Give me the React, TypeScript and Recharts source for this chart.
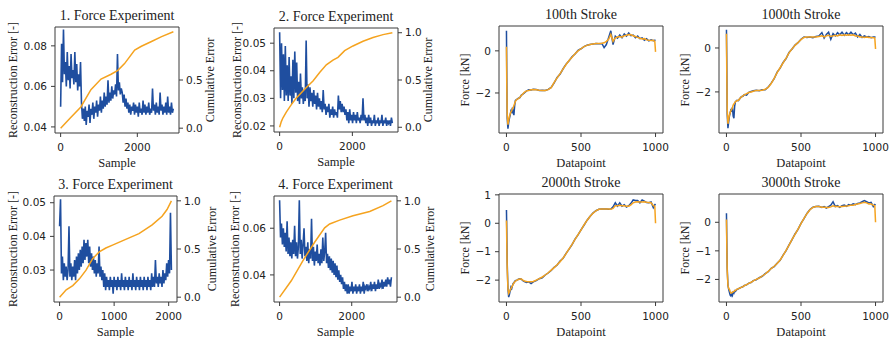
import { Line, LineChart, ReferenceArea, XAxis, YAxis } from "recharts";

const BLUE = "#1f4e9f";
const ORANGE = "#f5a31f";
const FRAME = "#3a3a3a";
const SERIF = '"Liberation Serif", "Times New Roman", serif';
const SANS = '"DejaVu Sans", sans-serif';

// last sample index of the four force experiments
const EXP_LAST = [2940, 3100, 2050, 3100];

// reconstruction error, evenly spread over the samples of each experiment
const exp1Error = [
  0.050, 0.081, 0.062, 0.088, 0.066, 0.072, 0.060, 0.077, 0.063, 0.070, 0.059, 0.076, 0.064, 0.068, 0.061, 0.077,
  0.062, 0.071, 0.058, 0.066, 0.060, 0.072, 0.052, 0.044, 0.049, 0.043, 0.050, 0.041, 0.048, 0.045, 0.051, 0.042,
  0.049, 0.046, 0.052, 0.044, 0.050, 0.047, 0.053, 0.045, 0.051, 0.048, 0.055, 0.047, 0.053, 0.049, 0.057, 0.050,
  0.055, 0.051, 0.063, 0.052, 0.057, 0.053, 0.060, 0.054, 0.058, 0.056, 0.061, 0.055, 0.076, 0.058, 0.062, 0.056,
  0.059, 0.057, 0.052, 0.056, 0.050, 0.054, 0.049, 0.052, 0.047, 0.051, 0.046, 0.050, 0.048, 0.052, 0.046, 0.051,
  0.047, 0.050, 0.045, 0.052, 0.047, 0.049, 0.046, 0.053, 0.047, 0.051, 0.046, 0.050, 0.047, 0.052, 0.046, 0.049,
  0.047, 0.059, 0.048, 0.051, 0.046, 0.052, 0.047, 0.050, 0.046, 0.057, 0.048, 0.051, 0.046, 0.050, 0.047, 0.052,
  0.046, 0.055, 0.047, 0.050, 0.046, 0.052, 0.047, 0.049,
];
const exp2Error = [
  0.054, 0.030, 0.050, 0.033, 0.046, 0.029, 0.049, 0.031, 0.042, 0.029, 0.045, 0.031, 0.038, 0.028, 0.044, 0.030,
  0.047, 0.032, 0.043, 0.029, 0.036, 0.028, 0.039, 0.030, 0.034, 0.028, 0.033, 0.029, 0.051, 0.030, 0.035, 0.027,
  0.034, 0.029, 0.032, 0.027, 0.033, 0.028, 0.031, 0.026, 0.032, 0.027, 0.030, 0.026, 0.029, 0.025, 0.033, 0.026,
  0.028, 0.024, 0.027, 0.025, 0.028, 0.023, 0.026, 0.024, 0.027, 0.023, 0.026, 0.024, 0.025, 0.023, 0.031, 0.026,
  0.029, 0.025, 0.028, 0.025, 0.027, 0.024, 0.026, 0.022, 0.025, 0.021, 0.026, 0.022, 0.024, 0.021, 0.025, 0.022,
  0.024, 0.021, 0.025, 0.022, 0.023, 0.021, 0.024, 0.022, 0.030, 0.022, 0.024, 0.021, 0.023, 0.020, 0.024, 0.021,
  0.023, 0.020, 0.022, 0.021, 0.024, 0.020, 0.022, 0.021, 0.023, 0.020, 0.022, 0.021, 0.024, 0.020, 0.022, 0.021,
  0.023, 0.020, 0.022, 0.021, 0.022, 0.020, 0.023, 0.021,
];
const exp3Error = [
  0.043, 0.051, 0.029, 0.034, 0.027, 0.032, 0.028, 0.031, 0.027, 0.030, 0.043, 0.028, 0.032, 0.027, 0.031, 0.028,
  0.033, 0.027, 0.034, 0.029, 0.035, 0.030, 0.036, 0.031, 0.037, 0.032, 0.039, 0.033, 0.038, 0.034, 0.039, 0.032,
  0.037, 0.031, 0.035, 0.030, 0.034, 0.029, 0.033, 0.028, 0.032, 0.029, 0.037, 0.028, 0.031, 0.027, 0.030, 0.025,
  0.029, 0.024, 0.028, 0.025, 0.027, 0.024, 0.028, 0.025, 0.027, 0.023, 0.028, 0.025, 0.027, 0.024, 0.028, 0.025,
  0.027, 0.024, 0.029, 0.025, 0.027, 0.024, 0.028, 0.025, 0.027, 0.024, 0.028, 0.025, 0.027, 0.024, 0.029, 0.025,
  0.027, 0.024, 0.028, 0.025, 0.027, 0.024, 0.028, 0.025, 0.027, 0.024, 0.028, 0.025, 0.027, 0.024, 0.028, 0.025,
  0.027, 0.024, 0.029, 0.025, 0.028, 0.025, 0.033, 0.026, 0.028, 0.025, 0.029, 0.026, 0.028, 0.025, 0.030, 0.026,
  0.029, 0.027, 0.032, 0.028, 0.033, 0.029, 0.047, 0.030,
];
const exp4Error = [
  0.072, 0.056, 0.062, 0.053, 0.060, 0.052, 0.058, 0.050, 0.063, 0.049, 0.056, 0.048, 0.054, 0.047, 0.055, 0.049,
  0.061, 0.048, 0.054, 0.047, 0.052, 0.072, 0.049, 0.055, 0.047, 0.053, 0.060, 0.048, 0.052, 0.046, 0.054, 0.045,
  0.051, 0.047, 0.064, 0.046, 0.052, 0.044, 0.050, 0.046, 0.053, 0.045, 0.049, 0.044, 0.051, 0.045, 0.056, 0.046,
  0.050, 0.058, 0.045, 0.049, 0.043, 0.048, 0.042, 0.047, 0.041, 0.046, 0.040, 0.045, 0.039, 0.044, 0.038, 0.042,
  0.037, 0.040, 0.036, 0.039, 0.034, 0.037, 0.033, 0.036, 0.032, 0.036, 0.032, 0.035, 0.033, 0.037, 0.032, 0.035,
  0.033, 0.036, 0.032, 0.035, 0.033, 0.036, 0.032, 0.035, 0.033, 0.037, 0.032, 0.035, 0.034, 0.036, 0.033, 0.035,
  0.034, 0.037, 0.033, 0.036, 0.034, 0.037, 0.033, 0.036, 0.034, 0.038, 0.034, 0.036, 0.035, 0.038, 0.034, 0.037,
  0.035, 0.038, 0.035, 0.039, 0.036, 0.038, 0.035, 0.039,
];

// cumulative error (normalised) and the samples it was read at
const exp1CumSample = [0, 263, 527, 790, 1053, 1316, 1492, 1667, 1931, 2106, 2370, 2633, 2940];
const exp1Cum = [0, 0.11, 0.22, 0.4, 0.51, 0.56, 0.6, 0.67, 0.81, 0.85, 0.9, 0.95, 1.0];
const exp2CumSample = [0, 46, 92, 183, 321, 459, 734, 917, 1100, 1284, 1467, 1605, 1788, 2017, 2293, 2568, 2843, 3100];
const exp2Cum = [0, 0.06, 0.1, 0.16, 0.24, 0.31, 0.42, 0.49, 0.58, 0.66, 0.71, 0.74, 0.81, 0.86, 0.91, 0.95, 0.98, 1.0];
const exp3CumSample = [0, 121, 242, 364, 485, 606, 727, 848, 970, 1212, 1455, 1697, 1879, 1970, 2050];
const exp3Cum = [0, 0.076, 0.12, 0.19, 0.28, 0.4, 0.47, 0.51, 0.54, 0.6, 0.66, 0.75, 0.84, 0.91, 1.0];
const exp4CumSample = [0, 324, 648, 971, 1249, 1388, 1665, 2035, 2498, 2868, 3100];
const exp4Cum = [0, 0.17, 0.38, 0.57, 0.72, 0.76, 0.8, 0.845, 0.89, 0.95, 1.0];

// stroke force profiles [kN]: measured (blue) vs reconstructed (orange)
const datapoints = [
  0, 2, 5, 10, 15, 20, 25, 30, 35, 40, 45, 50, 55, 60, 70, 80, 90, 100, 110, 120, 135, 150, 165, 180, 200, 220, 240,
  260, 280, 300, 320, 340, 360, 380, 400, 420, 440, 460, 480, 500, 520, 540, 560, 580, 600, 620, 640, 655, 670, 685,
  700, 715, 730, 745, 760, 775, 790, 805, 820, 835, 850, 865, 880, 895, 910, 925, 940, 955, 970, 985, 995, 1000,
];
const stroke100Measured = [
  0.95, -1.0, -3.2, -3.7, -3.4, -3.2, -3.05, -2.85, -2.9, -2.7, -2.95, -3.05, -2.6, -2.35, -2.3, -2.25, -2.22, -2.1,
  -2.05, -2.0, -1.9, -1.85, -1.86, -1.82, -1.84, -1.88, -1.87, -1.88, -1.83, -1.74, -1.52, -1.26, -1.1, -0.85, -0.63,
  -0.47, -0.28, -0.15, 0.02, 0.1, 0.2, 0.27, 0.3, 0.32, 0.35, 0.34, 0.35, 0.15, 0.3, 0.62, 0.95, 0.3, 0.7, 0.6, 0.75,
  0.62, 0.8, 0.7, 0.85, 0.72, 0.75, 0.62, 0.7, 0.58, 0.62, 0.5, 0.58, 0.47, 0.52, 0.48, 0.5, 0.5,
];
const stroke100Recon = [
  0.2, -1.5, -3.0, -3.5, -3.3, -3.1, -3.0, -2.9, -2.85, -2.75, -2.7, -2.6, -2.5, -2.4, -2.3, -2.27, -2.2, -2.12, -2.05,
  -1.97, -1.9, -1.88, -1.85, -1.84, -1.85, -1.87, -1.88, -1.88, -1.84, -1.75, -1.5, -1.28, -1.08, -0.86, -0.65, -0.46,
  -0.3, -0.14, 0.0, 0.1, 0.2, 0.26, 0.3, 0.33, 0.35, 0.35, 0.36, 0.38, 0.45, 0.55, 0.78, 0.45, 0.62, 0.66, 0.68, 0.65,
  0.72, 0.74, 0.78, 0.76, 0.72, 0.68, 0.64, 0.6, 0.56, 0.58, 0.52, 0.5, 0.49, 0.5, 0.45, -0.05,
];
const stroke1000Measured = [
  0.83, -0.5, -3.0, -3.65, -3.35, -3.1, -2.95, -2.82, -2.85, -2.7, -3.1, -3.2, -2.65, -2.45, -2.38, -2.4, -2.3, -2.22,
  -2.2, -2.12, -2.15, -2.02, -1.98, -1.95, -1.92, -1.95, -1.9, -1.9, -1.78, -1.6, -1.4, -1.1, -0.92, -0.66, -0.48,
  -0.2, -0.05, 0.13, 0.24, 0.4, 0.5, 0.48, 0.5, 0.47, 0.52, 0.55, 0.7, 0.45, 0.62, 0.72, 0.4, 0.65, 0.55, 0.7, 0.6,
  0.72, 0.58, 0.7, 0.6, 0.72, 0.6, 0.68, 0.5, 0.62, 0.48, 0.55, 0.5, 0.52, 0.47, 0.5, 0.5, 0.5,
];
const stroke1000Recon = [
  0.65, -1.0, -2.8, -3.45, -3.25, -3.05, -2.95, -2.85, -2.8, -2.72, -2.6, -2.55, -2.5, -2.45, -2.4, -2.38, -2.3, -2.23,
  -2.18, -2.13, -2.08, -2.03, -2.0, -1.97, -1.93, -1.93, -1.92, -1.88, -1.8, -1.62, -1.38, -1.12, -0.9, -0.68, -0.46,
  -0.22, -0.04, 0.12, 0.25, 0.38, 0.48, 0.5, 0.5, 0.5, 0.5, 0.52, 0.55, 0.5, 0.55, 0.58, 0.52, 0.55, 0.58, 0.55, 0.6,
  0.57, 0.6, 0.58, 0.6, 0.58, 0.6, 0.55, 0.55, 0.5, 0.5, 0.48, 0.5, 0.48, 0.48, 0.47, 0.45, -0.05,
];
const stroke2000Measured = [
  0.47, -0.2, -1.4, -2.3, -2.6, -2.5, -2.38, -2.25, -2.3, -2.2, -2.12, -2.1, -2.05, -2.02, -2.0, -1.97, -1.95, -1.97,
  -2.02, -2.05, -2.08, -2.06, -2.12, -2.06, -2.02, -1.95, -1.92, -1.82, -1.75, -1.66, -1.55, -1.47, -1.33, -1.23,
  -1.06, -0.91, -0.75, -0.56, -0.41, -0.23, -0.07, 0.1, 0.24, 0.36, 0.44, 0.49, 0.5, 0.5, 0.5, 0.49, 0.5, 0.58, 0.72,
  0.6, 0.72, 0.6, 0.65, 0.57, 0.62, 0.7, 0.82, 0.8, 0.8, 0.72, 0.82, 0.78, 0.73, 0.72, 0.75, 0.55, 0.65, 0.68,
];
const stroke2000Recon = [
  0.1, -0.6, -1.6, -2.3, -2.47, -2.42, -2.35, -2.3, -2.25, -2.2, -2.15, -2.1, -2.07, -2.04, -2.0, -1.98, -1.96, -1.96,
  -2.0, -2.03, -2.05, -2.06, -2.06, -2.05, -2.0, -1.95, -1.89, -1.82, -1.74, -1.65, -1.56, -1.46, -1.35, -1.22, -1.07,
  -0.9, -0.74, -0.57, -0.4, -0.24, -0.06, 0.1, 0.24, 0.35, 0.44, 0.49, 0.5, 0.5, 0.5, 0.5, 0.49, 0.52, 0.62, 0.62,
  0.63, 0.62, 0.62, 0.6, 0.6, 0.65, 0.72, 0.75, 0.76, 0.75, 0.75, 0.76, 0.74, 0.73, 0.72, 0.62, 0.6, 0.0,
];
const stroke3000Measured = [
  0.32, -0.5, -1.6, -2.2, -2.35, -2.45, -2.55, -2.58, -2.5, -2.56, -2.45, -2.48, -2.4, -2.42, -2.35, -2.33, -2.3, -2.27,
  -2.26, -2.21, -2.19, -2.13, -2.11, -2.04, -2.01, -1.94, -1.89, -1.8, -1.73, -1.61, -1.55, -1.43, -1.33, -1.15,
  -0.99, -0.79, -0.61, -0.41, -0.25, -0.04, 0.13, 0.31, 0.45, 0.53, 0.55, 0.56, 0.52, 0.55, 0.5, 0.55, 0.6, 0.72,
  0.55, 0.58, 0.52, 0.58, 0.6, 0.56, 0.62, 0.6, 0.65, 0.62, 0.66, 0.68, 0.72, 0.76, 0.72, 0.68, 0.7, 0.55, 0.62, 0.6,
];
const stroke3000Recon = [
  0.1, -0.7, -1.7, -2.2, -2.32, -2.35, -2.42, -2.48, -2.47, -2.45, -2.43, -2.42, -2.4, -2.38, -2.35, -2.32, -2.3,
  -2.28, -2.25, -2.22, -2.18, -2.14, -2.1, -2.05, -2.0, -1.95, -1.88, -1.81, -1.72, -1.62, -1.54, -1.44, -1.32, -1.16,
  -0.98, -0.8, -0.6, -0.42, -0.24, -0.05, 0.14, 0.3, 0.44, 0.52, 0.55, 0.55, 0.53, 0.53, 0.52, 0.52, 0.54, 0.58, 0.55,
  0.55, 0.54, 0.55, 0.56, 0.57, 0.58, 0.6, 0.6, 0.62, 0.64, 0.66, 0.68, 0.7, 0.68, 0.64, 0.64, 0.6, 0.58, 0.0,
];

type Pt = { x: number; y: number };

const spread = (vals: number[], last: number): Pt[] =>
  vals.map((y, i) => ({ x: (i * last) / (vals.length - 1), y }));
const zip = (xs: number[], ys: number[]): Pt[] => xs.map((x, i) => ({ x, y: ys[i] }));

const fixed = (d: number) => (v: number) => v.toFixed(d);
const minus = (v: number) => (v < 0 ? "\u2212" + Math.abs(v) : String(v));
const expDomain = (n: number): [number, number] => [-0.05 * n, 1.05 * n];

const LEFT_W = 50;
const RIGHT_W = 34;
const BOTTOM_H = 32;
const PAD = 4;
const PAD_RIGHT = 24;

interface PanelProps {
  box: [number, number, number, number];
  title: string;
  xLabel: string;
  yLabel: string;
  yLabelDx: number;
  rLabel?: string;
  rLabelDx?: number;
  xDomain: [number, number];
  xTicks: number[];
  yDomain: [number, number];
  yTicks: number[];
  yFmt: (v: number) => string;
  rDomain?: [number, number];
  rTicks?: number[];
  blue: Pt[];
  orange: Pt[];
  blueWidth?: number;
}

const tickStyle = { fontSize: 10.5, fill: "#222", fontFamily: SANS };

function Panel(p: PanelProps) {
  const [l, t, w, h] = p.box;
  const hasRight = !!p.rDomain;
  const chartW = LEFT_W + w + (hasRight ? RIGHT_W : PAD_RIGHT);
  const chartH = PAD + h + BOTTOM_H;
  const text = { position: "absolute" as const, whiteSpace: "nowrap" as const, color: "#222", fontFamily: SERIF };
  return (
    <>
      <div style={{ position: "absolute", left: l - LEFT_W, top: t - PAD }}>
        <LineChart
          width={chartW}
          height={chartH}
          margin={{ top: PAD, right: hasRight ? 0 : PAD_RIGHT, bottom: 0, left: 0 }}
        >
          <XAxis
            type="number"
            dataKey="x"
            domain={p.xDomain}
            ticks={p.xTicks}
            interval={0}
            height={BOTTOM_H}
            axisLine={false}
            stroke={FRAME}
            tickSize={4}
            tickMargin={7}
            tick={tickStyle}
          />
          <YAxis
            yAxisId="left"
            type="number"
            domain={p.yDomain}
            ticks={p.yTicks}
            interval={0}
            tickFormatter={p.yFmt}
            width={LEFT_W}
            axisLine={false}
            stroke={FRAME}
            tickSize={4}
            tickMargin={4}
            tick={tickStyle}
          />
          {hasRight && (
            <YAxis
              yAxisId="right"
              orientation="right"
              type="number"
              domain={p.rDomain}
              ticks={p.rTicks}
              interval={0}
              tickFormatter={fixed(1)}
              width={RIGHT_W}
              axisLine={false}
              stroke={FRAME}
              tickSize={4}
              tickMargin={3}
              tick={tickStyle}
            />
          )}
          <Line
            yAxisId="left"
            data={p.blue}
            dataKey="y"
            stroke={BLUE}
            strokeWidth={p.blueWidth ?? 1.5}
            strokeLinejoin="miter"
            dot={false}
            isAnimationActive={false}
          />
          <Line
            yAxisId={hasRight ? "right" : "left"}
            data={p.orange}
            dataKey="y"
            stroke={ORANGE}
            strokeWidth={1.5}
            dot={false}
            isAnimationActive={false}
          />
          <ReferenceArea
            yAxisId="left"
            x1={p.xDomain[0]}
            x2={p.xDomain[1]}
            y1={p.yDomain[0]}
            y2={p.yDomain[1]}
            fill="none"
            stroke={FRAME}
            strokeWidth={1}
            ifOverflow="visible"
          />
        </LineChart>
      </div>
      <div style={{ ...text, fontSize: 14, left: l + w / 2, top: t - 11, transform: "translate(-50%, -50%)" }}>
        {p.title}
      </div>
      <div style={{ ...text, fontSize: 12.5, left: l + w / 2, top: t + h + 30, transform: "translate(-50%, -50%)" }}>
        {p.xLabel}
      </div>
      <div
        style={{
          ...text,
          fontSize: 12,
          left: l + p.yLabelDx,
          top: t + h / 2,
          transform: "translate(-50%, -50%) rotate(-90deg)",
        }}
      >
        {p.yLabel}
      </div>
      {p.rLabel && (
        <div
          style={{
            ...text,
            fontSize: 12,
            left: l + w + (p.rLabelDx ?? 32),
            top: t + h / 2,
            transform: "translate(-50%, -50%) rotate(-90deg)",
          }}
        >
          {p.rLabel}
        </div>
      )}
    </>
  );
}

const CUM_DOMAIN: [number, number] = [-0.05, 1.05];
const FORCE_X: [number, number] = [-50, 1050];
const FORCE_TICKS = [0, 500, 1000];

export default function App() {
  return (
    <div
      style={{
        position: "absolute",
        left: 0,
        top: 0,
        width: 894,
        height: 338,
        background: "#fff",
        overflow: "hidden",
      }}
    >
      <Panel
        box={[55, 27, 124, 106]}
        title="1. Force Experiment"
        xLabel="Sample"
        yLabel="Reconstruction Error [-]"
        yLabelDx={-42}
        rLabel="Cumulative Error"
        rLabelDx={31}
        xDomain={expDomain(EXP_LAST[0])}
        xTicks={[0, 2000]}
        yDomain={[0.037, 0.0893]}
        yTicks={[0.04, 0.06, 0.08]}
        yFmt={fixed(2)}
        rDomain={CUM_DOMAIN}
        rTicks={[0, 0.5]}
        blue={spread(exp1Error, EXP_LAST[0])}
        orange={zip(exp1CumSample, exp1Cum)}
        blueWidth={1.6}
      />
      <Panel
        box={[274, 28, 124, 104]}
        title="2. Force Experiment"
        xLabel="Sample"
        yLabel="Reconstruction Error [-]"
        yLabelDx={-37}
        rLabel="Cumulative Error"
        rLabelDx={30}
        xDomain={expDomain(EXP_LAST[1])}
        xTicks={[0, 2000]}
        yDomain={[0.0178, 0.0555]}
        yTicks={[0.02, 0.03, 0.04, 0.05]}
        yFmt={fixed(2)}
        rDomain={CUM_DOMAIN}
        rTicks={[0, 0.5, 1]}
        blue={spread(exp2Error, EXP_LAST[1])}
        orange={zip(exp2CumSample, exp2Cum)}
        blueWidth={1.6}
      />
      <Panel
        box={[54, 196, 123, 106]}
        title="3. Force Experiment"
        xLabel="Sample"
        yLabel="Reconstruction Error [-]"
        yLabelDx={-41}
        rLabel="Cumulative Error"
        rLabelDx={35}
        xDomain={expDomain(EXP_LAST[2])}
        xTicks={[0, 1000, 2000]}
        yDomain={[0.0205, 0.052]}
        yTicks={[0.03, 0.04, 0.05]}
        yFmt={fixed(2)}
        rDomain={CUM_DOMAIN}
        rTicks={[0, 0.5, 1]}
        blue={spread(exp3Error, EXP_LAST[2])}
        orange={zip(exp3CumSample, exp3Cum)}
        blueWidth={1.6}
      />
      <Panel
        box={[274, 196, 123, 106]}
        title="4. Force Experiment"
        xLabel="Sample"
        yLabel="Reconstruction Error [-]"
        yLabelDx={-39}
        rLabel="Cumulative Error"
        rLabelDx={33}
        xDomain={expDomain(EXP_LAST[3])}
        xTicks={[0, 2000]}
        yDomain={[0.0284, 0.0738]}
        yTicks={[0.04, 0.06]}
        yFmt={fixed(2)}
        rDomain={CUM_DOMAIN}
        rTicks={[0, 0.5, 1]}
        blue={spread(exp4Error, EXP_LAST[3])}
        orange={zip(exp4CumSample, exp4Cum)}
        blueWidth={1.6}
      />
      <Panel
        box={[499, 26, 164, 107]}
        title="100th Stroke"
        xLabel="Datapoint"
        yLabel="Force [kN]"
        yLabelDx={-34}
        xDomain={FORCE_X}
        xTicks={FORCE_TICKS}
        yDomain={[-3.9, 1.18]}
        yTicks={[-2, 0]}
        yFmt={minus}
        blue={zip(datapoints, stroke100Measured)}
        orange={zip(datapoints, stroke100Recon)}
      />
      <Panel
        box={[719, 26, 164, 107]}
        title="1000th Stroke"
        xLabel="Datapoint"
        yLabel="Force [kN]"
        yLabelDx={-34}
        xDomain={FORCE_X}
        xTicks={FORCE_TICKS}
        yDomain={[-3.87, 1.0]}
        yTicks={[-2, 0]}
        yFmt={minus}
        blue={zip(datapoints, stroke1000Measured)}
        orange={zip(datapoints, stroke1000Recon)}
      />
      <Panel
        box={[499, 194, 164, 108]}
        title="2000th Stroke"
        xLabel="Datapoint"
        yLabel="Force [kN]"
        yLabelDx={-34}
        xDomain={FORCE_X}
        xTicks={FORCE_TICKS}
        yDomain={[-2.77, 1.03]}
        yTicks={[-2, -1, 0, 1]}
        yFmt={minus}
        blue={zip(datapoints, stroke2000Measured)}
        orange={zip(datapoints, stroke2000Recon)}
      />
      <Panel
        box={[719, 194, 164, 108]}
        title="3000th Stroke"
        xLabel="Datapoint"
        yLabel="Force [kN]"
        yLabelDx={-34}
        xDomain={FORCE_X}
        xTicks={FORCE_TICKS}
        yDomain={[-2.79, 0.99]}
        yTicks={[-2, -1, 0]}
        yFmt={minus}
        blue={zip(datapoints, stroke3000Measured)}
        orange={zip(datapoints, stroke3000Recon)}
      />
    </div>
  );
}
